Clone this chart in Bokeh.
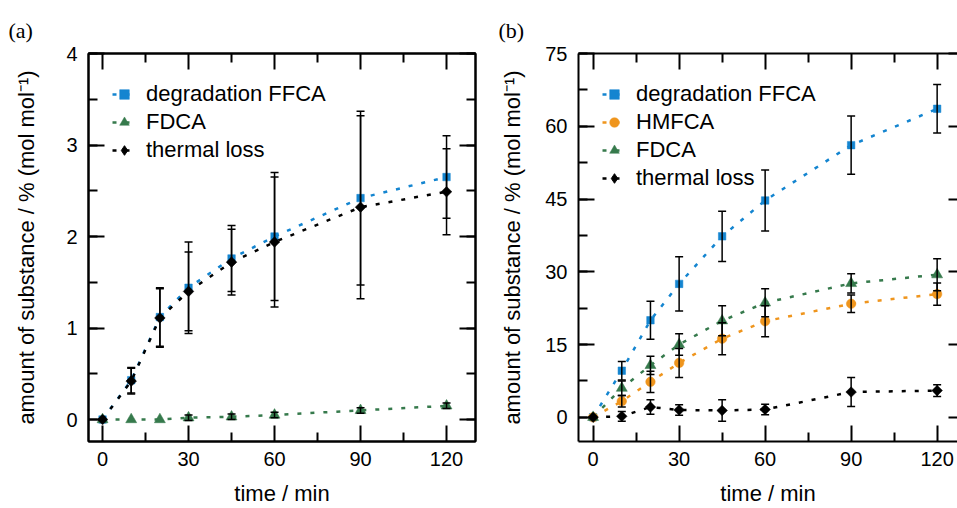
from bokeh.plotting import figure
from bokeh.layouts import row
from bokeh.models import (ColumnDataSource, Whisker, TeeHead, Legend, LegendItem,
                          FixedTicker, SingleIntervalTicker, LinearAxis, Range1d, Title,
                          CustomLabelingPolicy)
from bokeh.embed import file_html
from bokeh.resources import INLINE

# ---------------- data ----------------
time_min = [0, 10, 20, 30, 45, 60, 90, 120]

# panel (a)
a_ffca = [0, 0.43, 1.12, 1.44, 1.76, 2.00, 2.42, 2.65]
a_ffca_err = [0, 0.14, 0.32, 0.50, 0.36, 0.70, 0.95, 0.45]
a_fdca = [0, 0.00, 0.00, 0.02, 0.03, 0.05, 0.10, 0.15]
a_fdca_err = [0, 0.00, 0.00, 0.03, 0.03, 0.03, 0.03, 0.03]
a_thermal = [0, 0.42, 1.11, 1.40, 1.72, 1.94, 2.32, 2.49]
a_thermal_err = [0, 0.14, 0.32, 0.43, 0.36, 0.71, 1.00, 0.47]

# panel (b)
b_ffca = [0, 9.6, 20.0, 27.5, 37.3, 44.7, 56.1, 63.6]
b_ffca_err = [0, 1.9, 3.9, 5.6, 5.2, 6.3, 6.0, 5.0]
b_hmfca = [0, 3.3, 7.3, 11.2, 16.2, 19.8, 23.4, 25.4]
b_hmfca_err = [0, 1.2, 2.2, 3.0, 3.3, 3.2, 1.8, 2.3]
b_fdca = [0, 6.0, 10.7, 15.0, 19.9, 23.6, 27.6, 29.4]
b_fdca_err = [0, 1.5, 1.9, 2.2, 3.1, 2.9, 2.0, 3.3]
b_thermal = [0, 0.2, 2.1, 1.5, 1.4, 1.6, 5.2, 5.5]
b_thermal_err = [0, 1.0, 1.5, 1.1, 2.2, 1.1, 3.0, 1.2]

x_major = [0, 30, 60, 90, 120]
x_minor = [15, 45, 75, 105]

BLUE = "#1485d0"
ORANGE = "#ef951d"
GREEN = "#367a4c"
BLACK = "#000000"
FONT = "Liberation Sans"
YLABEL = "amount of substance / % (mol mol\u207b\u00b9)"


def style_axis(ax, labels=True, major_in=16, minor_in=9, line=True):
    ax.major_tick_in = major_in
    ax.major_tick_out = 0
    ax.minor_tick_in = minor_in
    ax.minor_tick_out = 0
    ax.major_tick_line_width = 2
    ax.minor_tick_line_width = 2
    ax.major_tick_line_color = BLACK
    ax.minor_tick_line_color = BLACK if minor_in > 0 else None
    ax.axis_line_color = BLACK if line else None
    ax.axis_line_width = 2
    ax.major_label_text_font = FONT
    ax.major_label_text_color = BLACK
    ax.axis_label_text_font = FONT
    ax.axis_label_text_font_size = "22px"
    ax.axis_label_text_font_style = "normal"
    ax.axis_label_text_color = BLACK
    if labels:
        ax.major_label_text_font_size = "20px"
    else:
        ax.major_label_text_font_size = "0px"
        ax.major_label_standoff = 0
        ax.major_label_policy = CustomLabelingPolicy(code="return new Set()")


def make_panel(tag, width, border_left, border_right, xr, yr, yint, series,
               legend_loc, ylabel_standoff, full_frame):
    p = figure(width=width, height=508, output_backend="svg", toolbar_location=None,
               x_range=Range1d(*xr), y_range=Range1d(*yr),
               min_border_left=border_left, min_border_right=border_right,
               min_border_top=53, min_border_bottom=66)
    p.xgrid.visible = False
    p.ygrid.visible = False
    p.background_fill_color = "white"
    p.border_fill_color = "white"
    if full_frame:
        p.outline_line_color = BLACK
        p.outline_line_width = 2
        p.outline_line_alpha = 1
    else:
        p.outline_line_color = None

    xt = FixedTicker(ticks=x_major, minor_ticks=x_minor)
    yt = SingleIntervalTicker(interval=yint, num_minor_ticks=2)

    xa = p.xaxis[0]
    xa.ticker = xt
    style_axis(xa)
    xa.axis_label = "time / min"
    xa.major_label_standoff = 10
    xa.axis_label_standoff = 12

    ya = p.yaxis[0]
    ya.ticker = yt
    style_axis(ya)
    ya.axis_label = YLABEL
    ya.major_label_standoff = 11
    ya.axis_label_standoff = ylabel_standoff

    top = LinearAxis(ticker=xt)
    style_axis(top, labels=False)
    p.add_layout(top, "above")
    rt = LinearAxis(ticker=yt)
    if full_frame:
        style_axis(rt, labels=False)
    else:
        # right edge of this panel is cut by the picture border
        style_axis(rt, labels=False, major_in=9, minor_in=0, line=False)
    p.add_layout(rt, "right")

    items = []
    for name, ys, errs, color, marker, size, angle in series:
        ln = p.line(time_min, ys, line_color=color, line_width=2.5, line_dash="4 9")
        et = [t for t, e in zip(time_min, errs) if e > 0]
        ev = [v for v, e in zip(ys, errs) if e > 0]
        ee = [e for e in errs if e > 0]
        if et:
            src = ColumnDataSource(dict(base=et,
                                        upper=[v + e for v, e in zip(ev, ee)],
                                        lower=[v - e for v, e in zip(ev, ee)]))
            w = Whisker(source=src, base="base", upper="upper", lower="lower",
                        line_color=BLACK, line_width=1.5, level="glyph",
                        upper_head=TeeHead(size=8, line_color=BLACK, line_width=1.5),
                        lower_head=TeeHead(size=8, line_color=BLACK, line_width=1.5))
            p.add_layout(w)
        sc = p.scatter(time_min, ys, marker=marker, size=size, angle=angle,
                       fill_color=color, line_color=color, line_width=0.5)
        if angle:
            # legend draws markers unrotated, so a hidden diamond glyph gives the key
            key = p.scatter(time_min, ys, marker="diamond", fill_color=color,
                            line_color=color, line_width=1, visible=False)
            items.append(LegendItem(label=name, renderers=[ln, key]))
        else:
            items.append(LegendItem(label=name, renderers=[ln, sc]))

    lg = Legend(items=items, location=legend_loc, orientation="vertical",
                padding=0, margin=0, spacing=0, glyph_width=24, glyph_height=28,
                label_height=28, label_standoff=10, label_text_font=FONT,
                label_text_font_size="22px", label_text_color=BLACK,
                border_line_alpha=0, background_fill_alpha=0)
    p.add_layout(lg)

    p.title = Title(text=tag, align="left", offset=-80,
                    text_font="Liberation Serif", text_font_size="22px",
                    text_font_style="normal", text_color=BLACK, standoff=21)
    return p


series_a = [
    ("degradation FFCA", a_ffca, a_ffca_err, BLUE, "square", 7.5, 0),
    ("FDCA", a_fdca, a_fdca_err, GREEN, "triangle", 11, 0),
    ("thermal loss", a_thermal, a_thermal_err, BLACK, "square", 7.5, 0.785398),
]
series_b = [
    ("degradation FFCA", b_ffca, b_ffca_err, BLUE, "square", 7.5, 0),
    ("HMFCA", b_hmfca, b_hmfca_err, ORANGE, "circle", 9.5, 0),
    ("FDCA", b_fdca, b_fdca_err, GREEN, "triangle", 11, 0),
    ("thermal loss", b_thermal, b_thermal_err, BLACK, "square", 7.5, 0.785398),
]

pa = make_panel("(a)", 480, 88, 5, (-4.9, 130.1), (-0.24, 4.0), 1, series_a,
                (24, 277), 24, True)
pb = make_panel("(b)", 477, 98, 0, (-5.1, 127.1), (-5.0, 75.0), 15, series_b,
                (24, 249), 17, False)

layout = row(pa, pb)
open("out.html", "w").write(file_html(layout, INLINE))
